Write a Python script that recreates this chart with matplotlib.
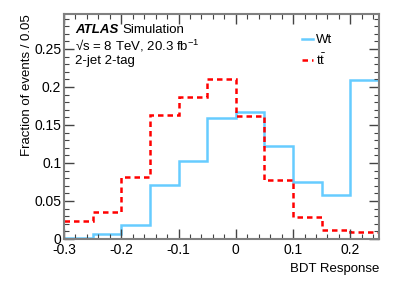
import matplotlib.pyplot as plt
import numpy as np
from matplotlib.ticker import MultipleLocator

plt.rcParams['font.family'] = ['Liberation Sans', 'DejaVu Sans']
plt.rcParams['mathtext.fontset'] = 'custom'
plt.rcParams['mathtext.rm'] = 'Liberation Sans'

# BDT response bins (width 0.05)
edges = np.arange(-0.30, 0.2501, 0.05)
wt = [0.001, 0.0066, 0.018, 0.0715, 0.102, 0.159, 0.1675, 0.1228, 0.0754, 0.058, 0.209]
ttbar = [0.024, 0.035, 0.082, 0.163, 0.187, 0.211, 0.162, 0.078, 0.0285, 0.0114, 0.0088]

fig = plt.figure(figsize=(3.99, 2.86), dpi=100)
ax = fig.add_axes([64/399, 1-239/286, (379-64)/399, (239-14)/286])

ax.stairs(wt, edges, baseline=None, color='#66ccff', lw=1.8, label='Wt')
ax.stairs(ttbar, edges, baseline=None, color='#ff0000', lw=1.8, ls=(0, (2.2, 1.6)), label=r'$\mathrm{t\bar{t}}$')

ax.set_xlim(-0.3, 0.25)
ax.set_ylim(0, 0.296)

ax.xaxis.set_minor_locator(MultipleLocator(0.02))
ax.yaxis.set_minor_locator(MultipleLocator(0.01))
ax.set_xticks([-0.3, -0.2, -0.1, 0, 0.1, 0.2])
ax.set_xticklabels(['-0.3', '-0.2', '-0.1', '0', '0.1', '0.2'])
ax.set_yticks([0, 0.05, 0.1, 0.15, 0.2, 0.25])
ax.set_yticklabels(['0', '0.05', '0.1', '0.15', '0.2', '0.25'])
ax.tick_params(which='both', direction='in', top=True, right=True, labelsize=10, color='#444444')
ax.tick_params(axis='y', pad=2)
ax.tick_params(axis='x', pad=3)
ax.tick_params(which='major', length=7, width=1)
ax.tick_params(which='minor', length=3.5, width=0.8)
for s in ax.spines.values():
    s.set_color('#808080')
    s.set_linewidth(1.5)

ax.set_xlabel('BDT Response', fontsize=9.5, ha='right', x=1.0, labelpad=4)
ax.set_ylabel('Fraction of events / 0.05', fontsize=9.5, ha='right', y=1.0, labelpad=1)

atl = ax.text(0.035, 0.927, 'ATLAS', transform=ax.transAxes, fontsize=9.5, fontweight='bold', style='italic', va='center')
ax.annotate('Simulation', xy=(1, 0.5), xycoords=atl, xytext=(3, 0), textcoords='offset points',
            fontsize=9.5, va='center', ha='left')
ax.text(0.035, 0.86, '√s = 8 TeV, 20.3 fb$^{-1}$', transform=ax.transAxes, fontsize=9.5, va='center')
ax.text(0.035, 0.793, '2-jet 2-tag', transform=ax.transAxes, fontsize=9.5, va='center')

leg = ax.legend(loc='upper left', bbox_to_anchor=(0.74, 0.935), frameon=False, fontsize=9.5,
                handlelength=0.8, handletextpad=0.2, labelspacing=0.45, borderaxespad=0)

plt.savefig('out.png', dpi=100)
